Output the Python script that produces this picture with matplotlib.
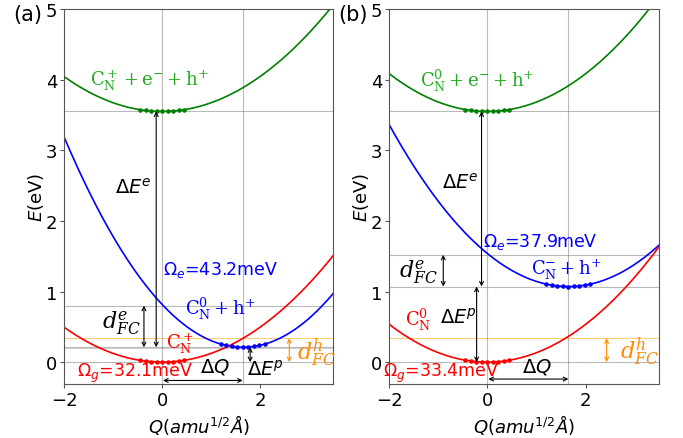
import matplotlib.pyplot as plt
import numpy as np

# physical constants for E = 1/2 * (Omega/hbar)^2 * Q^2, Q in amu^1/2 Angstrom
hbar = 6.582e-16      # eV s
amu_A2 = 1.6605e-47   # kg m^2
e_charge = 1.602e-19  # J/eV

panels = ['(a)', '(b)']
omega_g = [0.0321, 0.0334]    # eV
omega_e = [0.0432, 0.0379]    # eV
Q_shift = [1.65, 1.65]        # Delta Q
E_exc = [0.21, 1.07]          # min of blue (excited) curve
E_top = [3.55, 3.55]          # min of green curve
E_vert = [0.80, 1.52]         # vertical excitation level
E_hole = [0.34, 0.34]         # d_FC^h level

label_green = [r'$\mathrm{C_N^+ + e^{-} + h^{+}}$', r'$\mathrm{C_N^0 + e^{-} + h^{+}}$']
label_blue = [r'$\mathrm{C_N^0 + h^{+}}$', r'$\mathrm{C_N^{-} + h^{+}}$']
label_red = [r'$\mathrm{C_N^+}$', r'$\mathrm{C_N^0}$']
label_omega_e = [r'$\Omega_e$=43.2meV', r'$\Omega_e$=37.9meV']
label_omega_g = [r'$\Omega_g$=32.1meV', r'$\Omega_g$=33.4meV']

# text anchor points (left edge, centre) per panel
pos_green = [(-1.47, 4.0), (-1.37, 4.0)]
pos_dEe = [(-0.96, 2.48), (-0.92, 2.55)]
pos_om_e = [(0.02, 1.32), (-0.08, 1.72)]
pos_blue = [(0.47, 0.77), (0.88, 1.32)]
pos_dfce = [(-1.22, 0.57), (-1.8, 1.29)]
pos_red = [(0.08, 0.27), (-1.67, 0.61)]
pos_om_g = [(-1.73, -0.15), (-2.12, -0.14)]
pos_dQ = [(0.78, -0.06), (0.71, -0.05)]
pos_dEp = [(1.73, -0.09), (-0.96, 0.64)]
pos_dfch = [(2.75, 0.14), (2.71, 0.16)]

# arrow x positions
x_dEe = [-0.12, -0.12]
x_dfce = [-0.37, -0.9]
x_dEp = [1.8, -0.22]
x_dfch = [2.6, 2.43]
y_dQ = [-0.26, -0.24]


def curv(om):
    return 0.5 * (om / hbar) ** 2 * amu_A2 / e_charge


def arrow(ax, x0, y0, x1, y1, c='k'):
    ax.annotate('', xy=(x1, y1), xytext=(x0, y0),
                arrowprops=dict(arrowstyle='<->', color=c, lw=0.8,
                                shrinkA=0, shrinkB=0, mutation_scale=7))


fig = plt.figure(figsize=(6.83, 4.39), dpi=100)
axes = [fig.add_axes([0.094, 0.123, 0.394, 0.854]),
        fig.add_axes([0.570, 0.123, 0.395, 0.854])]

Q = np.linspace(-2, 3.5, 300)
Qd = np.linspace(-0.45, 0.45, 9)

for i, ax in enumerate(axes):
    kg = curv(omega_g[i])
    ke = curv(omega_e[i])
    dq = Q_shift[i]

    # reference lines
    for yy in [0, E_exc[i], E_vert[i], E_top[i]]:
        ax.axhline(yy, color='grey', lw=0.8, alpha=0.55, zorder=0)
    if i == 0:
        ax.axhline(0.195, color='grey', lw=0.8, alpha=0.35, zorder=0)
    ax.axhline(E_hole[i], color='orange', lw=0.8, alpha=0.55, zorder=0)
    ax.axvline(0, color='grey', lw=0.8, alpha=0.55, zorder=0)
    ax.axvline(dq, color='grey', lw=0.8, alpha=0.55, zorder=0)

    # curves
    ax.plot(Q, E_top[i] + kg * Q ** 2, color='green', lw=1.2)
    ax.plot(Q, E_exc[i] + ke * (Q - dq) ** 2, color='blue', lw=1.2)
    ax.plot(Q, kg * Q ** 2, color='red', lw=1.2)
    ax.plot(Qd, E_top[i] + kg * Qd ** 2, '.', color='green', ms=4.5)
    ax.plot(Qd + dq, E_exc[i] + ke * Qd ** 2, '.', color='blue', ms=4.5)
    ax.plot(Qd, kg * Qd ** 2, '.', color='red', ms=4.5)

    # arrows
    arrow(ax, x_dEe[i], E_exc[i], x_dEe[i], E_top[i])
    arrow(ax, 0.02, y_dQ[i], dq, y_dQ[i])
    arrow(ax, x_dfce[i], E_exc[i], x_dfce[i], E_vert[i])
    arrow(ax, x_dEp[i], 0, x_dEp[i], E_exc[i])
    arrow(ax, x_dfch[i], 0, x_dfch[i], E_hole[i], c='darkorange')

    # texts
    ax.text(*pos_green[i], label_green[i], color='#22aa22', fontsize=13,
            va='center', math_fontfamily='dejavuserif')
    ax.text(*pos_dEe[i], r'$\mathit{\Delta E}^{e}$', fontsize=14, va='center')
    ax.text(*pos_om_e[i], label_omega_e[i], color='blue', fontsize=12.5,
            va='center')
    ax.text(*pos_blue[i], label_blue[i], color='blue', fontsize=13,
            va='center', math_fontfamily='dejavuserif')
    ax.text(*pos_dfce[i], r'$d_{FC}^{e}$', fontsize=16, va='center',
            math_fontfamily='dejavuserif')
    ax.text(*pos_red[i], label_red[i], color='red', fontsize=13, va='center',
            math_fontfamily='dejavuserif')
    ax.text(*pos_om_g[i], label_omega_g[i], color='red', fontsize=12.5,
            va='center')
    ax.text(*pos_dQ[i], r'$\mathit{\Delta Q}$', fontsize=14, va='center')
    ax.text(*pos_dEp[i], r'$\mathit{\Delta E}^{p}$', fontsize=14, va='center')
    ax.text(*pos_dfch[i], r'$d_{FC}^{h}$', color='darkorange', fontsize=16,
            va='center', math_fontfamily='dejavuserif')

    ax.set_xlim(-2, 3.5)
    ax.set_ylim(-0.31, 5)
    ax.set_xticks([-2, 0, 2])
    ax.set_yticks([0, 1, 2, 3, 4, 5])
    ax.tick_params(labelsize=13, color='#555555', length=3, pad=2)
    for sp in ax.spines.values():
        sp.set_color('#555555')
    ax.set_xlabel(r'$Q(amu^{1/2}\AA)$', fontsize=13, labelpad=2)
    ax.set_ylabel(r'$E$(eV)', fontsize=13, labelpad=0)
    ax.text(-0.135, 0.987, panels[i], transform=ax.transAxes, fontsize=15,
            va='center', ha='center')

fig.savefig('out.png', dpi=100)
